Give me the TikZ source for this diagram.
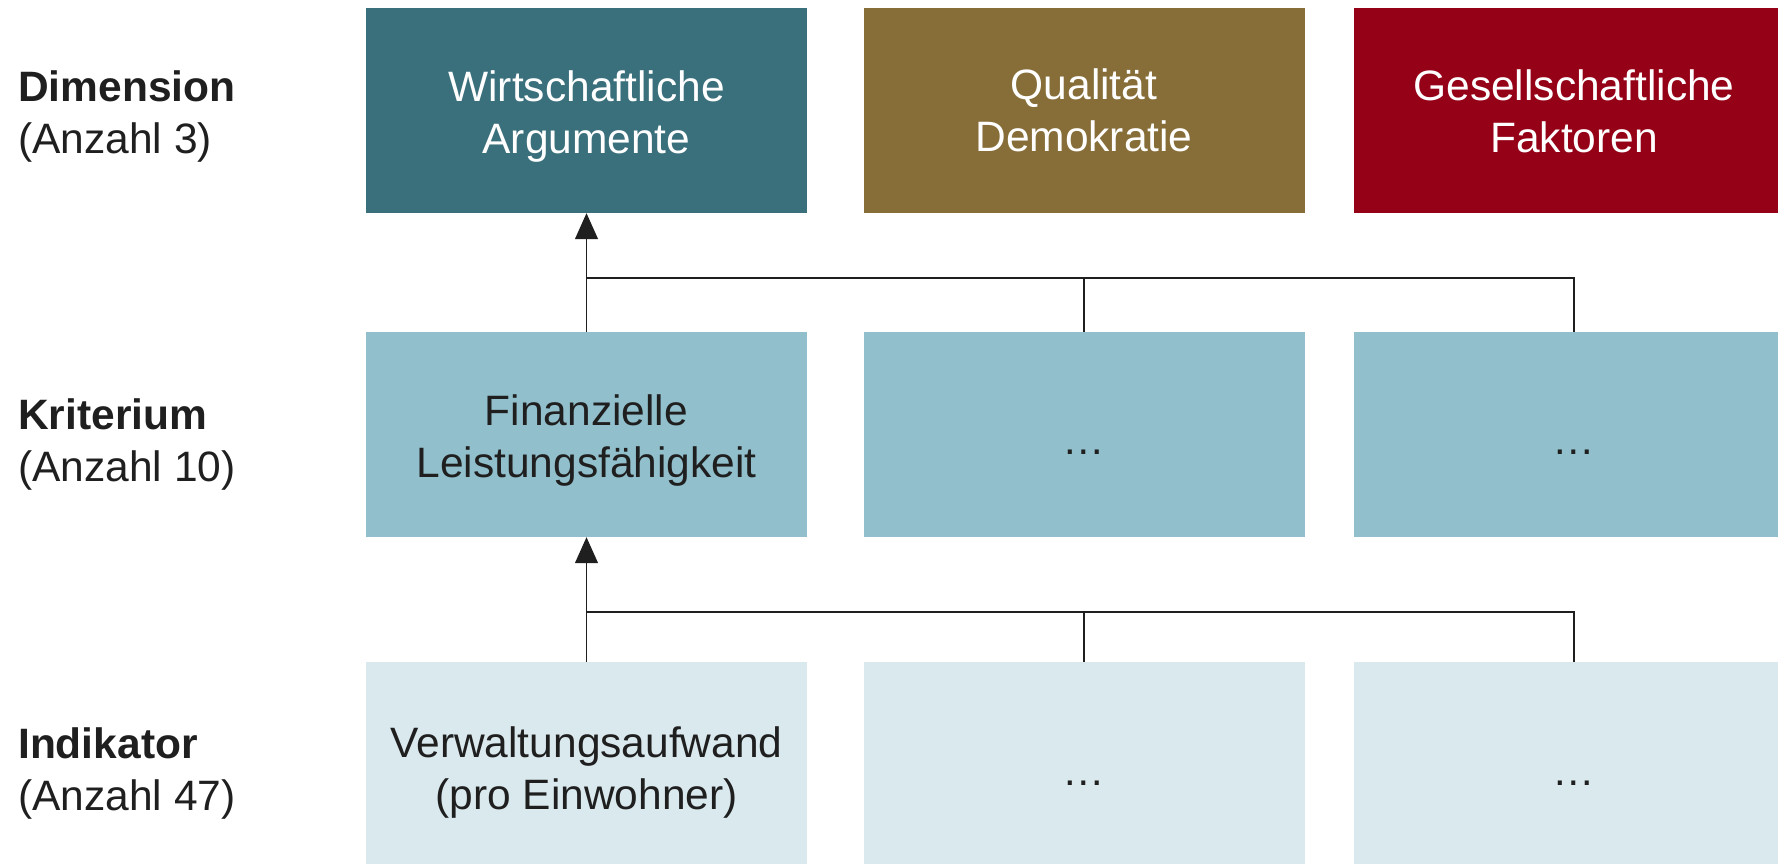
\documentclass[tikz,border=0pt]{standalone}
\usepackage{fontspec}
\setmainfont{Liberation Sans}
\usetikzlibrary{arrows.meta}
\definecolor{dimA}{HTML}{3A6F7C}
\definecolor{dimB}{HTML}{876E39}
\definecolor{dimC}{HTML}{950217}
\definecolor{krit}{HTML}{91BFCB}
\definecolor{indi}{HTML}{DAE9EE}
\definecolor{ink}{HTML}{1F1F1F}
\tikzset{
  box/.style={rectangle, inner sep=0pt, minimum width=441pt, minimum height=205pt},
  txt/.style={inner sep=0pt, align=center, font=\fontsize{42.5}{52}\selectfont},
  wtxt/.style={txt, text=white},
  dtxt/.style={txt, text=ink},
  lvl/.style={anchor=west, inner sep=0pt, align=left, text=ink, font=\fontsize{42.5}{52}\selectfont},
  conn/.style={draw=ink, line width=1.3pt},
  arr/.style={conn, -{Triangle[length=26pt,width=23pt]}}
}
\begin{document}
\begin{tikzpicture}[x=1pt,y=-1pt]
\useasboundingbox (0,0) rectangle (1778,864);
\clip (0,0) rectangle (1778,864);
\fill[white] (0,0) rectangle (1778,864);
% row 1
\node[box, fill=dimA] (r1c1) at (586.5,110.5) {};
\node[box, fill=dimB] (r1c2) at (1084,110.5) {};
\node[box, fill=dimC] (r1c3) at (1574,110.5) {};
% row 2
\node[box, fill=krit] (r2c1) at (586.5,434.5) {};
\node[box, fill=krit] (r2c2) at (1084,434.5) {};
\node[box, fill=krit] (r2c3) at (1574,434.5) {};
% row 3
\node[box, fill=indi] (r3c1) at (586.5,764.5) {};
\node[box, fill=indi] (r3c2) at (1084,764.5) {};
\node[box, fill=indi] (r3c3) at (1574,764.5) {};
% box texts
\node[wtxt] (t11) at ([yshift=-5.7pt]r1c1.center) {Wirtschaftliche\\Argumente};
\node[wtxt] (t12) at ([yshift=-0.3pt]r1c2.center) {Qualität\\Demokratie};
\node[wtxt] (t13) at ([yshift=-1.3pt]r1c3.center) {Gesellschaftliche\\Faktoren};
\node[dtxt] (t21) at ([yshift=-5.7pt]r2c1.center) {Finanzielle\\Leistungsfähigkeit};
\node[dtxt] (t22) at ([yshift=-10pt]r2c2.center) {\strut…};
\node[dtxt] (t23) at ([yshift=-10pt]r2c3.center) {\strut…};
\node[dtxt] (t31) at ([yshift=-8pt]r3c1.center) {Verwaltungsaufwand\\(pro Einwohner)};
\node[dtxt] (t32) at ([yshift=-11pt]r3c2.center) {\strut…};
\node[dtxt] (t33) at ([yshift=-11pt]r3c3.center) {\strut…};
% level labels
\node[lvl] (l1) at (18,117) {\textbf{Dimension}\\(Anzahl 3)};
\node[lvl] (l2) at (18,444) {\textbf{Kriterium}\\(Anzahl 10)};
\node[lvl] (l3) at (18,773) {\textbf{Indikator}\\(Anzahl 47)};
% connectors
\coordinate (j1) at (586.5,278);
\coordinate (j2) at (586.5,612);
\draw[conn] (r2c1.north) -- (j1);
\draw[conn] (r2c2.north) |- (j1);
\draw[conn] (r2c3.north) |- (j1);
\draw[arr] (j1) -- (r1c1.south);
\draw[conn] (r3c1.north) -- (j2);
\draw[conn] (r3c2.north) |- (j2);
\draw[conn] (r3c3.north) |- (j2);
\draw[arr] (j2) -- (r2c1.south);
\end{tikzpicture}
\end{document}
